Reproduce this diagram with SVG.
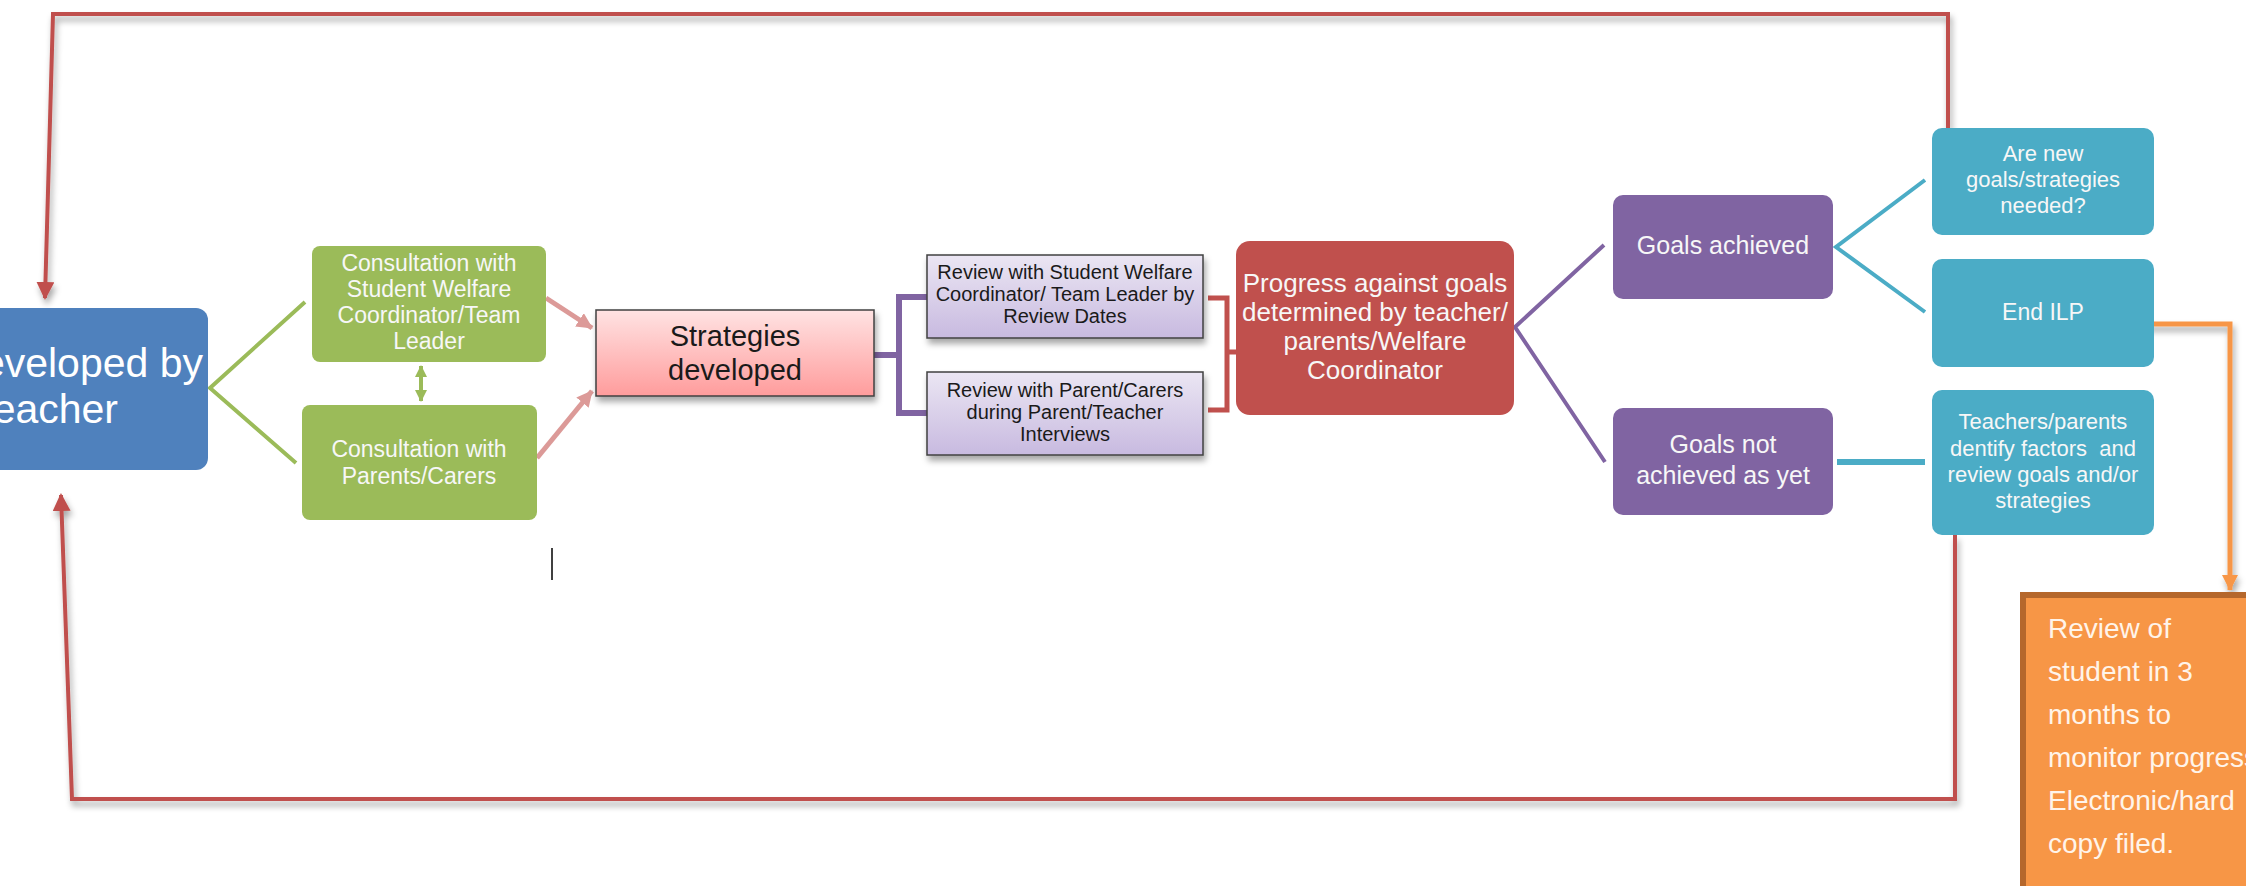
<svg xmlns="http://www.w3.org/2000/svg" width="2246" height="886" viewBox="0 0 2246 886">
<defs>
<style>
text{font-family:"Liberation Sans",Arial,sans-serif;}
.w{fill:#F7F7F7;text-anchor:middle;}
.k{fill:#1A1A1A;text-anchor:middle;}
.blue{fill:#4F81BD;}
.green{fill:#9BBB59;}
.red{fill:#C0504D;}
.purple{fill:#8064A2;}
.teal{fill:#4BACC6;}
.c{fill:none;stroke-linejoin:miter;}
</style>
<linearGradient id="gPink" x1="0" y1="0" x2="0" y2="1"><stop offset="0" stop-color="#FFE3E3"/><stop offset="1" stop-color="#FF9C9C"/></linearGradient>
<linearGradient id="gLav" x1="0" y1="0" x2="0" y2="1"><stop offset="0" stop-color="#EBE6F3"/><stop offset="1" stop-color="#C8BAE0"/></linearGradient>
<filter id="sh" x="-10%" y="-20%" width="130%" height="160%"><feDropShadow dx="2" dy="5" stdDeviation="3" flood-color="#000" flood-opacity="0.35"/></filter>
<marker id="aRed" markerUnits="userSpaceOnUse" markerWidth="18" markerHeight="20" refX="16" refY="9" orient="auto"><path d="M0,0 L18,9 L0,18 Z" fill="#C0504D"/></marker>
<marker id="aPink" markerUnits="userSpaceOnUse" markerWidth="18" markerHeight="18" refX="15" refY="8" orient="auto"><path d="M0,0 L16,8 L0,16 Z" fill="#DC9A98"/></marker>
<marker id="aGreen" markerUnits="userSpaceOnUse" markerWidth="14" markerHeight="14" refX="11" refY="6" orient="auto-start-reverse"><path d="M0,0 L12,6 L0,12 Z" fill="#9BBB59"/></marker>
<marker id="aOrange" markerUnits="userSpaceOnUse" markerWidth="18" markerHeight="18" refX="15" refY="8" orient="auto"><path d="M0,0 L16,8 L0,16 Z" fill="#F79646"/></marker>
</defs>
<rect width="2246" height="886" fill="#FFFFFF"/>

<g id="connectors">
<path class="c" d="M1948,128 V14 H53 L45,298" stroke="#C0504D" stroke-width="4" marker-end="url(#aRed)" filter="url(#sh)"/>
<path class="c" d="M1948,14 H53" stroke="#C0504D" stroke-width="8" filter="url(#sh)"/>
<path class="c" d="M1955,535 V799 H72 L61,495" stroke="#C0504D" stroke-width="4" marker-end="url(#aRed)" filter="url(#sh)"/>
<path class="c" d="M1955,799 H72" stroke="#C0504D" stroke-width="8" filter="url(#sh)"/>
<path class="c" d="M305,302 L210,388 L296,463" stroke="#9BBB59" stroke-width="4"/>
<path class="c" d="M421,366 V401" stroke="#9BBB59" stroke-width="4" marker-start="url(#aGreen)" marker-end="url(#aGreen)"/>
<path class="c" d="M546,298 L592,328" stroke="#DC9A98" stroke-width="5" marker-end="url(#aPink)"/>
<path class="c" d="M537,458 L592,391" stroke="#DC9A98" stroke-width="5" marker-end="url(#aPink)"/>
<path class="c" d="M927,297 H899 V413 H927 M874,355 H899" stroke="#8064A2" stroke-width="6"/>
<path class="c" d="M1208,298 H1227 V410 H1208 M1227,352 H1237" stroke="#C0504D" stroke-width="5"/>
<path class="c" d="M1604,245 L1515,327 L1605,462" stroke="#8064A2" stroke-width="4"/>
<path class="c" d="M1925,180 L1836,247 L1925,312" stroke="#4BACC6" stroke-width="4"/>
<path class="c" d="M1837,462 H1925" stroke="#4BACC6" stroke-width="6"/>
<path class="c" d="M2121,324 H2230 V590" stroke="#F79646" stroke-width="5" marker-end="url(#aOrange)" filter="url(#sh)"/>
<path d="M552,548 V580" stroke="#000" stroke-width="1.5"/>
</g>

<g id="n-teacher">
<rect class="blue" x="-12" y="308" width="220" height="162" rx="12"/>
<text fill="#FFFFFF" font-size="41" text-anchor="end" x="203" y="377">developed by</text>
<text fill="#FFFFFF" font-size="41" text-anchor="end" x="118" y="423">teacher</text>
</g>

<g id="n-consult-swc">
<rect class="green" x="312" y="246" width="234" height="116" rx="8"/>
<text class="w" font-size="23" x="429"><tspan x="429" y="271">Consultation with</tspan><tspan x="429" y="297">Student Welfare</tspan><tspan x="429" y="323">Coordinator/Team</tspan><tspan x="429" y="349">Leader</tspan></text>
</g>

<g id="n-consult-parents">
<rect class="green" x="302" y="405" width="235" height="115" rx="8"/>
<text class="w" font-size="23" x="419"><tspan x="419" y="457">Consultation with</tspan><tspan x="419" y="484">Parents/Carers</tspan></text>
</g>

<g id="n-strategies">
<rect x="596" y="310" width="278" height="86" fill="url(#gPink)" stroke="#404040" stroke-width="1.5" filter="url(#sh)"/>
<text class="k" font-size="29" x="735"><tspan x="735" y="346">Strategies</tspan><tspan x="735" y="380">developed</tspan></text>
</g>

<g id="n-review-swc">
<rect x="927" y="255" width="276" height="83" fill="url(#gLav)" stroke="#404040" stroke-width="1.5" filter="url(#sh)"/>
<text class="k" font-size="20" x="1065"><tspan x="1065" y="279">Review with Student Welfare</tspan><tspan x="1065" y="301">Coordinator/ Team Leader by</tspan><tspan x="1065" y="323">Review Dates</tspan></text>
</g>

<g id="n-review-parents">
<rect x="927" y="372" width="276" height="83" fill="url(#gLav)" stroke="#404040" stroke-width="1.5" filter="url(#sh)"/>
<text class="k" font-size="20" x="1065"><tspan x="1065" y="397">Review with Parent/Carers</tspan><tspan x="1065" y="419">during Parent/Teacher</tspan><tspan x="1065" y="441">Interviews</tspan></text>
</g>

<g id="n-progress">
<rect class="red" x="1236" y="241" width="278" height="174" rx="14"/>
<text class="w" font-size="26" x="1375"><tspan x="1375" y="292">Progress against goals</tspan><tspan x="1375" y="321">determined by teacher/</tspan><tspan x="1375" y="350">parents/Welfare</tspan><tspan x="1375" y="379">Coordinator</tspan></text>
</g>

<g id="n-goals-achieved">
<rect class="purple" x="1613" y="195" width="220" height="104" rx="10"/>
<text class="w" font-size="25" x="1723" y="254">Goals achieved</text>
</g>

<g id="n-goals-not">
<rect class="purple" x="1613" y="408" width="220" height="107" rx="10"/>
<text class="w" font-size="25" x="1723"><tspan x="1723" y="453">Goals not</tspan><tspan x="1723" y="484">achieved as yet</tspan></text>
</g>

<g id="n-new-goals">
<rect class="teal" x="1932" y="128" width="222" height="107" rx="10"/>
<text class="w" font-size="22" x="2043"><tspan x="2043" y="161">Are new</tspan><tspan x="2043" y="187">goals/strategies</tspan><tspan x="2043" y="213">needed?</tspan></text>
</g>

<g id="n-end-ilp">
<rect class="teal" x="1932" y="259" width="222" height="108" rx="10"/>
<text class="w" font-size="23" x="2043" y="320">End ILP</text>
</g>

<g id="n-identify">
<rect class="teal" x="1932" y="390" width="222" height="145" rx="10"/>
<text class="w" font-size="22" x="2043" style="white-space:pre"><tspan x="2043" y="429">Teachers/parents</tspan><tspan x="2043" y="456">dentify factors  and</tspan><tspan x="2043" y="482">review goals and/or</tspan><tspan x="2043" y="508">strategies</tspan></text>
</g>

<g id="n-review-3months">
<rect x="2023" y="595" width="240" height="300" fill="#F79646" stroke="#B5672C" stroke-width="6"/>
<text fill="#FFF4EA" font-size="28" x="2048"><tspan x="2048" y="638">Review of</tspan><tspan x="2048" y="681">student in 3</tspan><tspan x="2048" y="724">months to</tspan><tspan x="2048" y="767">monitor progress</tspan><tspan x="2048" y="810">Electronic/hard</tspan><tspan x="2048" y="853">copy filed.</tspan></text>
</g>
</svg>
